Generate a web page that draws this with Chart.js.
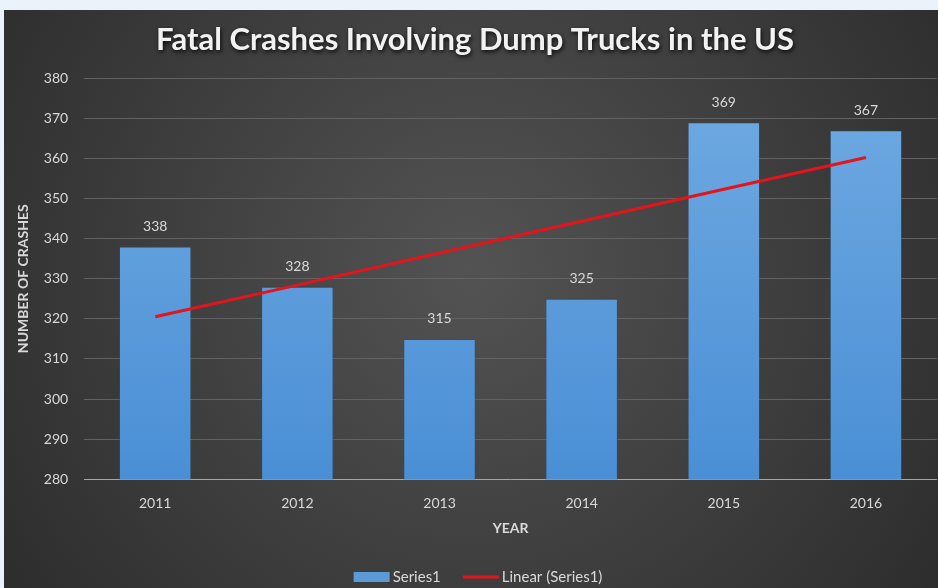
<!DOCTYPE html>
<html>
<head>
<meta charset="utf-8">
<script src="https://cdn.jsdelivr.net/npm/chart.js@4.4.1/dist/chart.umd.min.js"></script>
<style>
  html, body { margin: 0; padding: 0; background: #eaf3fc; width: 938px; height: 588px; overflow: hidden; }
  #wrap { position: absolute; left: 4px; top: 10px; width: 934px; height: 578px; }
</style>
</head>
<body>
<div id="wrap"><canvas id="c" width="934" height="578"></canvas></div>
<script>
const chartTitle = 'Fatal Crashes Involving Dump Trucks in the US';
const years = ['2011', '2012', '2013', '2014', '2015', '2016'];
const crashes = [338, 328, 315, 325, 369, 367];
const trendValues = [320.5, 328.4, 336.4, 344.3, 352.3, 360.2];
const yTicks = [280, 290, 300, 310, 320, 330, 340, 350, 360, 370, 380];

const FONT = 'Lato, "Open Sans", sans-serif';
const LABEL = '#d9d9d9';
const BAR_SOLID = '#5b9bd5';
const TREND = '#e3141c';

const bgPlugin = {
  id: 'bg',
  beforeDraw(chart) {
    const { ctx, width, height } = chart;
    ctx.save();
    const g = ctx.createRadialGradient(width * 0.5, height * 0.45, 0, width * 0.5, height * 0.45, Math.max(width, height) * 0.62);
    g.addColorStop(0, '#535353');
    g.addColorStop(1, '#2c2c2c');
    ctx.fillStyle = g;
    ctx.fillRect(0, 0, width, height);
    ctx.restore();
  }
};

const titlePlugin = {
  id: 'shadowTitle',
  afterDraw(chart) {
    const { ctx, width } = chart;
    ctx.save();
    ctx.font = 'bold 31px ' + FONT;
    ctx.textAlign = 'center';
    ctx.textBaseline = 'middle';
    ctx.shadowColor = 'rgba(0,0,0,0.85)';
    ctx.shadowBlur = 4;
    ctx.shadowOffsetX = 1;
    ctx.shadowOffsetY = 2;
    ctx.fillStyle = '#f2f2f2';
    ctx.fillText(chartTitle, width / 2 + 4, 30);
    ctx.restore();
  }
};

const valueLabels = {
  id: 'valueLabels',
  afterDatasetsDraw(chart) {
    const { ctx } = chart;
    const meta = chart.getDatasetMeta(0);
    ctx.save();
    ctx.font = '14px ' + FONT;
    ctx.fillStyle = LABEL;
    ctx.textAlign = 'center';
    ctx.textBaseline = 'middle';
    meta.data.forEach((el, i) => {
      ctx.fillText(String(crashes[i]), el.x, el.y - 20);
    });
    ctx.restore();
  }
};

const legendPlugin = {
  id: 'customLegend',
  afterDraw(chart) {
    const { ctx, width, height } = chart;
    const items = chart.data.datasets.map(ds => ({ text: ds.label, bar: ds.type === 'bar' }));
    ctx.save();
    ctx.font = '15px ' + FONT;
    ctx.textBaseline = 'middle';
    ctx.textAlign = 'left';
    const sym = 36, gapText = 3, gapItem = 22;
    const widths = items.map(it => sym + gapText + ctx.measureText(it.text).width);
    const total = widths.reduce((a, b) => a + b, 0) + gapItem * (items.length - 1);
    let x = width / 2 - total / 2 + 7;
    const y = height - 11;
    items.forEach((it, i) => {
      if (it.bar) {
        ctx.fillStyle = BAR_SOLID;
        ctx.fillRect(x, y - 5, sym, 10);
      } else {
        ctx.strokeStyle = TREND;
        ctx.lineWidth = 3;
        ctx.beginPath();
        ctx.moveTo(x, y);
        ctx.lineTo(x + sym, y);
        ctx.stroke();
      }
      ctx.fillStyle = LABEL;
      ctx.fillText(it.text, x + sym + gapText, y);
      x += widths[i] + gapItem;
    });
    ctx.restore();
  }
};

function barGradient(context) {
  const chart = context.chart;
  const area = chart.chartArea;
  if (!area) return BAR_SOLID;
  const g = chart.ctx.createLinearGradient(0, area.top, 0, area.bottom);
  g.addColorStop(0, '#70aae2');
  g.addColorStop(1, '#4a8fd5');
  return g;
}

new Chart(document.getElementById('c'), {
  data: {
    labels: years,
    datasets: [
      {
        type: 'bar',
        label: 'Series1',
        data: crashes,
        backgroundColor: barGradient,
        borderColor: 'rgba(40,80,120,0.35)',
        borderWidth: 1,
        barPercentage: 0.51,
        categoryPercentage: 1,
        order: 2
      },
      {
        type: 'line',
        label: 'Linear (Series1)',
        data: trendValues,
        borderColor: TREND,
        borderWidth: 3,
        pointRadius: 0,
        fill: false,
        tension: 0,
        order: 1
      }
    ]
  },
  options: {
    responsive: false,
    animation: false,
    layout: { padding: { top: 68, right: 1, left: 11, bottom: 31 } },
    scales: {
      x: {
        grid: { display: false },
        border: { display: false },
        ticks: { color: LABEL, font: { family: FONT, size: 14 }, padding: 8 },
        title: { display: true, text: 'YEAR', color: LABEL, font: { family: FONT, size: 14, weight: 'bold' }, padding: { top: 0, bottom: 20 } }
      },
      y: {
        min: 280,
        max: 380,
        afterBuildTicks(scale) { scale.ticks = yTicks.map(v => ({ value: v })); },
        grid: {
          color: (ctx) => ctx.tick && ctx.tick.value === 280 ? '#a6a6a6' : '#626262',
          lineWidth: 1,
          drawTicks: false
        },
        border: { display: false },
        ticks: { color: LABEL, font: { family: FONT, size: 14 }, padding: 16 },
        title: { display: true, text: 'NUMBER OF CRASHES', color: LABEL, font: { family: FONT, size: 14, weight: 'bold' }, padding: { top: 0, bottom: -4 } }
      }
    },
    plugins: {
      title: { display: false },
      tooltip: { enabled: false },
      legend: { display: false }
    }
  },
  plugins: [bgPlugin, titlePlugin, valueLabels, legendPlugin]
});
</script>
</body>
</html>
